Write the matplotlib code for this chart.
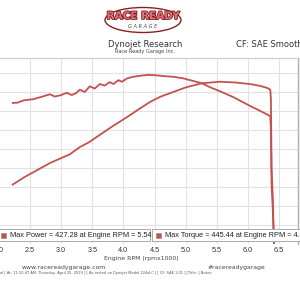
import matplotlib
matplotlib.use("Agg")
import matplotlib.pyplot as plt
from matplotlib.patches import Ellipse, Rectangle
import matplotlib.patheffects as pe

# ---- data ----
rpm_power = [2.21, 2.40, 2.60, 2.82, 3.00, 3.14, 3.30, 3.45, 3.62, 3.80, 4.06, 4.25,
             4.43, 4.60, 4.75, 5.00, 5.26, 5.55, 5.80, 6.03, 6.20, 6.32, 6.36, 6.37,
             6.38, 6.40, 6.42]
power = [155, 175, 193, 213, 226, 236, 255, 268, 287, 307, 334, 355,
         374, 388, 397, 412, 423, 427, 425, 421, 416, 410, 406, 380,
         200, 120, -5]

rpm_torque = [2.21, 2.30, 2.40, 2.55, 2.70, 2.82, 2.90, 3.00, 3.09, 3.17, 3.24, 3.30,
              3.38, 3.46, 3.54, 3.62, 3.70, 3.78, 3.84, 3.92, 3.98, 4.05, 4.15, 4.28,
              4.40, 4.52, 4.64, 4.80, 4.96, 5.10, 5.26, 5.40, 5.55, 5.76, 5.90, 6.05,
              6.20, 6.32, 6.36, 6.37, 6.38, 6.40, 6.42]
torque = [371, 372, 378, 381, 388, 394, 388, 392, 398, 392, 397, 406,
          400, 415, 409, 421, 417, 426, 421, 431, 427, 435, 440, 443,
          445, 444, 442, 440, 436, 430, 423, 412, 402, 387, 375, 362,
          350, 340, 336, 300, 160, 90, -5]

x_ticks = [2.0, 2.5, 3.0, 3.5, 4.0, 4.5, 5.0, 5.5, 6.0, 6.5]
y_grid = [50, 100, 150, 200, 250, 300, 350, 400, 450]

RED = "#c4514e"
W = H = 300.0

def fx(px):
    return px / W

def fy(py):
    return 1 - py / H

fig = plt.figure(figsize=(3, 3), dpi=100)
fig.patch.set_facecolor("white")

# axes geometry: xlim 1.8..6.8 -> px -13.6..297.7 ; ylim 0..490 -> py 244..57.8
x0, x1 = -13.6, 297.7
y0, y1 = 244.0, 57.8
ax = fig.add_axes([fx(x0), fy(y0), (x1 - x0) / W, (y0 - y1) / H])
ax.set_xlim(1.8, 6.8)
ax.set_ylim(0, 490)
ax.set_facecolor("white")
ax.set_xticks(x_ticks)
ax.set_yticks(y_grid)
ax.grid(True, color="#e2e2e2", lw=0.8)
ax.tick_params(left=False, bottom=False, labelleft=False, labelbottom=False)
for s in ["left", "bottom"]:
    ax.spines[s].set_visible(False)
ax.spines["top"].set_color("#c8c8c8")
ax.spines["right"].set_color("#b0b0b0")
ax.spines["right"].set_linewidth(1.0)

ax.plot(rpm_power, power, color=RED, lw=1.3, solid_capstyle="butt")
ax.plot(rpm_torque, torque, color=RED, lw=1.3, solid_capstyle="butt")

# second right border line
fig.add_artist(plt.Line2D([fx(299.5), fx(299.5)], [fy(58), fy(244)], color="#c0c0c0", lw=0.8))
# top horizontal rule across page
fig.add_artist(plt.Line2D([0, 1], [fy(58), fy(58)], color="#cfcfcf", lw=0.8))

# x tick labels
for t in x_ticks:
    px = -1.1 + (t - 2.0) * 62.25
    fig.text(fx(px), fy(251), f"{t:.1f}", ha="center", va="center", fontsize=5.2,
             color="#333333", family="Liberation Sans")

# legend boxes
for (bx0, bx1, txt) in [(-3, 150, "Max Power = 427.28 at Engine RPM = 5.54"),
                        (152, 305, "Max Torque = 445.44 at Engine RPM = 4.40")]:
    fig.add_artist(Rectangle((fx(bx0), fy(241)), (bx1 - bx0) / W, 12 / H,
                             transform=fig.transFigure, facecolor="white",
                             edgecolor="#aaaaaa", lw=0.7))
    fig.add_artist(Rectangle((fx(bx0 + 4), fy(238)), 5 / W, 5 / H,
                             transform=fig.transFigure, facecolor=RED,
                             edgecolor="#888888", lw=0.4))
    fig.text(fx(bx0 + 13), fy(235.3), txt, ha="left", va="center",
             fontsize=5.3, color="#222222", family="Liberation Sans")

# header / logo
fig.add_artist(Ellipse((fx(143), fy(20)), 76 / W, 25 / H, transform=fig.transFigure,
                       facecolor="white", edgecolor="#8a2020", lw=1.0))
fig.text(fx(143), fy(16), "RACE READY", ha="center", va="center", fontsize=7.5,
         fontweight="bold", color="#e0707a",
         path_effects=[pe.withStroke(linewidth=1.2, foreground="#7a1a1a")])
fig.text(fx(143), fy(26.5), "G A R A G E", ha="center", va="center", fontsize=3.6,
         style="italic", color="#444444")
fig.text(fx(145), fy(44), "Dynojet Research", ha="center", va="center",
         fontsize=6.0, color="#333333")
fig.text(fx(145), fy(52), "Race Ready Garage Inc.", ha="center", va="center",
         fontsize=3.6, color="#444444")
fig.text(fx(236), fy(44), "CF: SAE Smooth", ha="left", va="center",
         fontsize=6.0, color="#333333")

# footer
fig.text(fx(141), fy(258.5), "Engine RPM (rpmx1000)", ha="center", va="center",
         fontsize=4.4, color="#444444")
fig.text(fx(64), fy(267), "www.racereadygarage.com", ha="center", va="center",
         fontsize=4.4, color="#444444")
fig.text(fx(236), fy(267), "#racereadygarage", ha="center", va="center",
         fontsize=4.4, color="#444444")
fig.text(fx(0), fy(273),
         "ol [ At: 11:10:47 AM, Thursday, April 25, 2019 ] [ As tested on Dynojet Model 224xLC ] [ CF: SAE 1.01 ] [Title: ] Notes:",
         ha="left", va="center", fontsize=2.6, color="#555555")

fig.savefig("out.png", dpi=100, facecolor="white")
